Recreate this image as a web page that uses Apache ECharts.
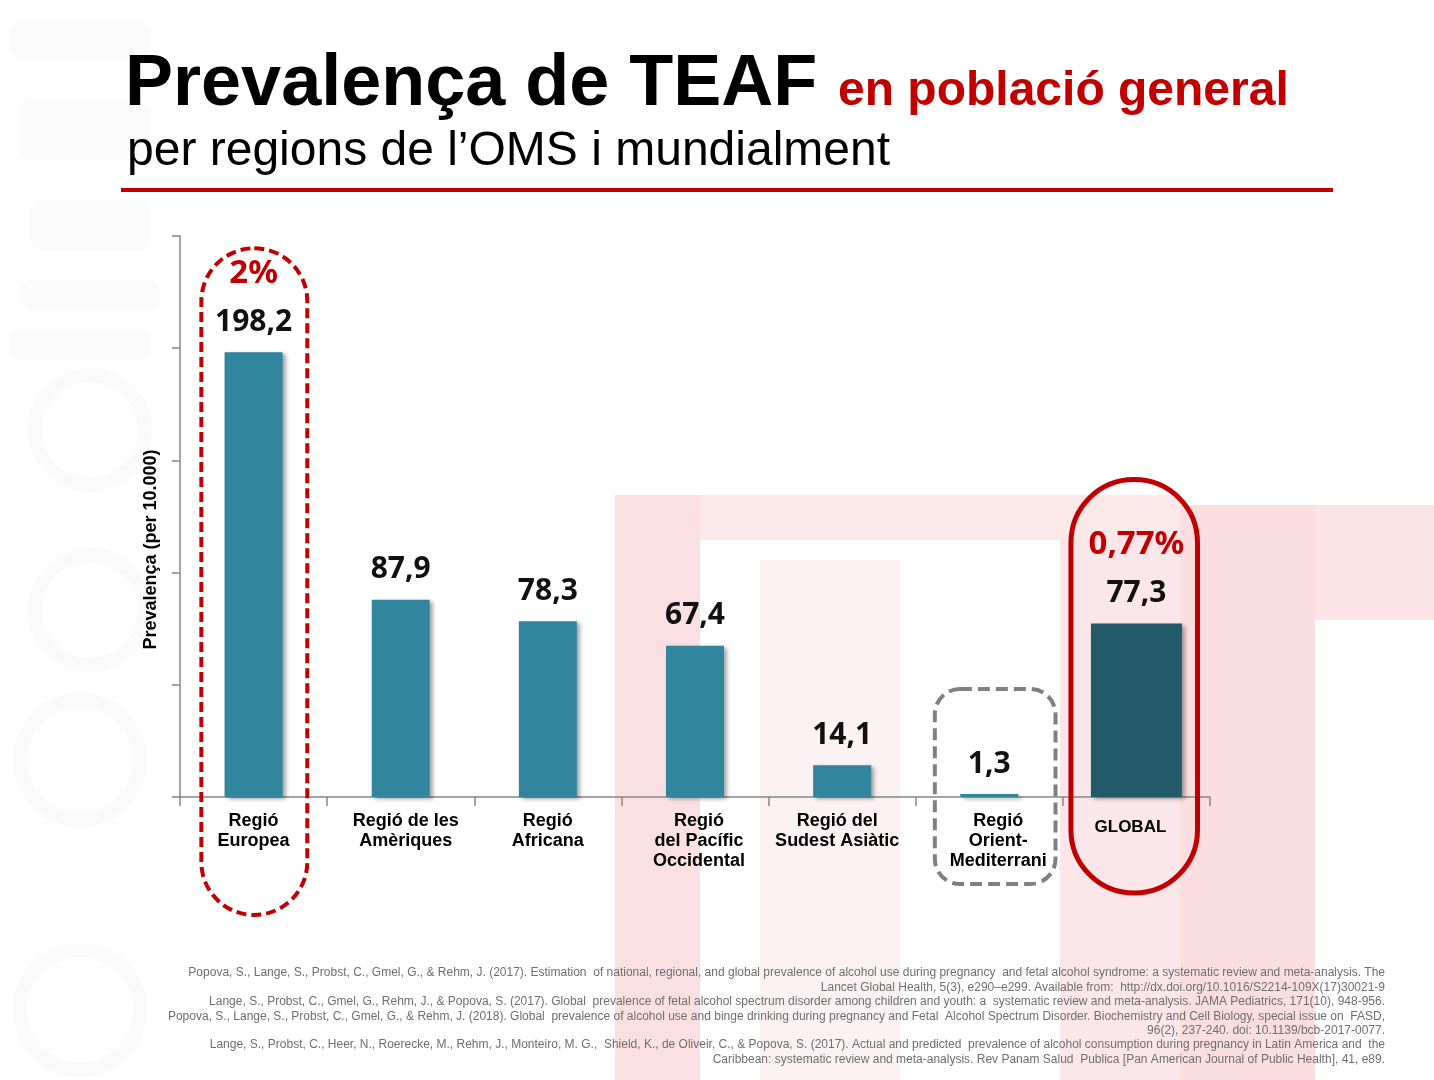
<!DOCTYPE html>
<html>
<head>
<meta charset="utf-8">
<script src="https://cdn.jsdelivr.net/npm/echarts@6/dist/echarts.min.js"></script>
<style>
html,body{margin:0;padding:0;background:#fff;}
#c{width:1434px;height:1080px;}
</style>
</head>
<body>
<div id="c"></div>
<script>
const categories = ['Regió\nEuropea', 'Regió de les\nAmèriques', 'Regió\nAfricana', 'Regió\ndel Pacífic\nOccidental', 'Regió del\nSudest Asiàtic', 'Regió\nOrient-\nMediterrani', 'GLOBAL'];
const values = [198.2, 87.9, 78.3, 67.4, 14.1, 1.3, 77.3];
const pctLabels = ['2%', '', '', '', '', '', '0,77%'];
const yTicks = [0, 50, 100, 150, 200, 250];
const titleMain = 'Prevalença de TEAF';
const titleRed = 'en població general';
const subtitle = 'per regions de l\u2019OMS i mundialment';
const yAxisName = 'Prevalença (per 10.000)';
const references = [
  'Popova, S., Lange, S., Probst, C., Gmel, G., & Rehm, J. (2017). Estimation  of national, regional, and global prevalence of alcohol use during pregnancy  and fetal alcohol syndrome: a systematic review and meta-analysis. The',
  'Lancet Global Health, 5(3), e290\u2013e299. Available from:  http://dx.doi.org/10.1016/S2214-109X(17)30021-9',
  'Lange, S., Probst, C., Gmel, G., Rehm, J., & Popova, S. (2017). Global  prevalence of fetal alcohol spectrum disorder among children and youth: a  systematic review and meta-analysis. JAMA Pediatrics, 171(10), 948-956.',
  'Popova, S., Lange, S., Probst, C., Gmel, G., & Rehm, J. (2018). Global  prevalence of alcohol use and binge drinking during pregnancy and Fetal  Alcohol Spectrum Disorder. Biochemistry and Cell Biology, special issue on  FASD,',
  '96(2), 237-240. doi: 10.1139/bcb-2017-0077.',
  'Lange, S., Probst, C., Heer, N., Roerecke, M., Rehm, J., Monteiro, M. G.,  Shield, K., de Oliveir, C., & Popova, S. (2017). Actual and predicted  prevalence of alcohol consumption during pregnancy in Latin America and  the',
  'Caribbean: systematic review and meta-analysis. Rev Panam Salud  Publica [Pan American Journal of Public Health], 41, e89.'
];

const lastIdx = categories.length - 1;
const regional = values.map((v, i) => i === lastIdx ? null : v);
const globalVals = values.map((v, i) => i === lastIdx ? v : null);

const LAT = "'Liberation Sans', Arial, sans-serif";
const NUM = "'Noto Sans', sans-serif";

function fmtLabel(p) {
  const s = Number(p.value).toFixed(1).replace('.', ',');
  const pct = pctLabels[p.dataIndex];
  return pct ? '{p|' + pct + '}\n{v|' + s + '}' : '{v|' + s + '}';
}
const labelCfg = {
  show: true, position: 'top', distance: 5, formatter: fmtLabel,
  rich: {
    p: { fontFamily: NUM, fontSize: 33, fontWeight: 'bold', color: '#c00000', lineHeight: 48 },
    v: { fontFamily: NUM, fontSize: 30, fontWeight: 'bold', color: '#111', lineHeight: 50 }
  }
};
const shadow = { shadowColor: 'rgba(0,0,0,0.35)', shadowBlur: 4, shadowOffsetX: 3, shadowOffsetY: 2 };

// faint background watermark
const bg = [];
[[615, 495, 85, 585, 0.17], [700, 495, 480, 45, 0.12], [760, 560, 140, 520, 0.07], [1060, 540, 120, 540, 0.13], [1180, 505, 135, 575, 0.18], [1315, 505, 119, 115, 0.15]].forEach(r => {
  bg.push({ type: 'rect', z: -20, silent: true, shape: { x: r[0], y: r[1], width: r[2], height: r[3] }, style: { fill: 'rgba(225,70,85,' + r[4] + ')' } });
});
[[10, 20, 140, 40], [20, 100, 130, 60], [30, 200, 120, 50], [20, 280, 140, 30], [10, 330, 140, 30]].forEach(r => {
  bg.push({ type: 'rect', z: -20, silent: true, shape: { x: r[0], y: r[1], width: r[2], height: r[3], r: 10 }, style: { fill: 'rgba(0,0,0,0.015)' } });
});
[[90, 430, 55], [90, 610, 55], [80, 760, 60], [80, 1010, 60]].forEach(c => {
  bg.push({ type: 'circle', z: -20, silent: true, shape: { cx: c[0], cy: c[1], r: c[2] }, style: { fill: 'none', stroke: 'rgba(0,0,0,0.02)', lineWidth: 14 } });
});

const texts = [
  { type: 'text', left: 125, top: 49, style: { text: titleMain, font: 'bold 72px ' + LAT, fill: '#000' } },
  { type: 'text', left: 838, top: 68, style: { text: titleRed, font: 'bold 48px ' + LAT, fill: '#c00000' } },
  { type: 'text', left: 127, top: 128, style: { text: subtitle, font: '48px ' + LAT, fill: '#000' } },
  { type: 'rect', shape: { x: 121, y: 188, width: 1212, height: 4 }, style: { fill: '#c00000' } }
];
references.forEach((line, i) => {
  texts.push({ type: 'text', right: 49, top: 967 + i * 14.4, style: { text: line, font: '12px ' + LAT, fill: '#6e6e6e' } });
});

const labelShift = [0, 10, 0, 8, -10, 18, -12];
const xData = categories.map((c, i) => {
  const pad = labelShift[i] >= 0 ? [i === lastIdx ? 6 : 0, 0, 0, labelShift[i]] : [i === lastIdx ? 6 : 0, -labelShift[i], 0, 0];
  const ts = { padding: pad };
  if (i === lastIdx) ts.fontSize = 17;
  return { value: c, textStyle: ts };
});

const chart = echarts.init(document.getElementById('c'));
chart.setOption({
  backgroundColor: '#ffffff',
  animation: false,
  grid: { left: 180, right: 224, top: 236, bottom: 283, containLabel: false, outerBoundsMode: 'none' },
  xAxis: [
    {
      type: 'category', data: xData,
      axisLine: { lineStyle: { color: '#868686', width: 1.5 } },
      axisTick: { show: true, length: 9, lineStyle: { color: '#868686', width: 1.5 } },
      axisLabel: { color: '#000', fontFamily: LAT, fontWeight: 'bold', fontSize: 18, lineHeight: 20, margin: 14, interval: 0 }
    },
    { type: 'category', data: categories, show: false }
  ],
  yAxis: {
    type: 'value', min: yTicks[0], max: yTicks[yTicks.length - 1], interval: yTicks[1] - yTicks[0],
    name: yAxisName, nameLocation: 'middle', nameGap: 20, nameRotate: 90,
    nameTextStyle: { fontFamily: LAT, fontWeight: 'bold', fontSize: 18, color: '#000', padding: [0, 66, 0, 0] },
    axisLine: { show: true, lineStyle: { color: '#868686', width: 1.5 } },
    axisTick: { show: true, length: 8, lineStyle: { color: '#868686', width: 1.5 } },
    axisLabel: { show: false },
    splitLine: { show: false }
  },
  series: [
    { type: 'bar', xAxisIndex: 0, data: regional, barWidth: 58, itemStyle: Object.assign({ color: '#31869d' }, shadow), label: labelCfg, z: 3 },
    { type: 'bar', xAxisIndex: 1, data: globalVals, barWidth: 91, itemStyle: Object.assign({ color: '#235a6a' }, shadow), label: labelCfg, z: 3 }
  ],
  graphic: bg.concat(texts)
});

// annotation outlines positioned from the chart's own scales
function px(i, v) { return chart.convertToPixel({ gridIndex: 0 }, [i, v]); }
const band = px(1, 0)[0] - px(0, 0)[0];
const axisY = px(0, 0)[1];
function outline(i, dx, wf, topGap, botGap, r, stroke, lw, dash) {
  const c = px(i, values[i]);
  const cx = c[0] + dx * band;
  const w = wf * band;
  const top = c[1] - topGap;
  const bottom = axisY + botGap;
  return { type: 'rect', z: 10, silent: true, shape: { x: cx - w / 2, y: top, width: w, height: bottom - top, r: r === 'full' ? w / 2 : r }, style: { fill: 'none', stroke: stroke, lineWidth: lw, lineDash: dash } };
}
const outlines = [
  outline(0, 0.005, 0.72, 104, 118, 'full', '#c00000', 4, [10, 5]),
  outline(5, 0.04, 0.82, 105, 87, 25, '#808080', 4, [12, 6]),
  outline(6, -0.015, 0.86, 144, 96, 63, '#c00000', 5, null)
];
chart.setOption({ graphic: bg.concat(texts).concat(outlines) });
</script>
</body>
</html>
